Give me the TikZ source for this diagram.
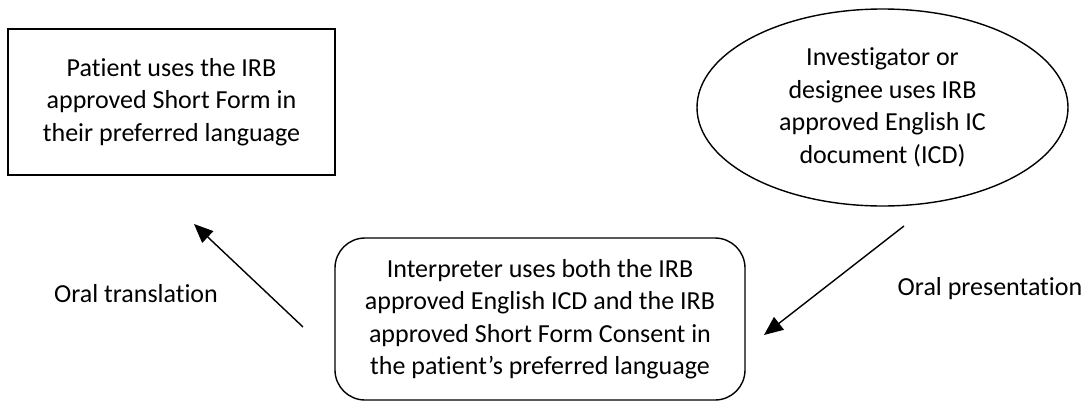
\documentclass[tikz,border=0pt]{standalone}
\usepackage{fontspec}
\setmainfont[RawFeature={-liga}]{Carlito}
\usetikzlibrary{arrows.meta,shapes.geometric}
\tikzset{
  txt/.style={font=\fontsize{26}{32.5}\selectfont, align=center, inner sep=0pt},
  box/.style={txt, draw, line width=1.8pt, minimum width=327pt, minimum height=146pt},
  oval/.style={txt, draw, ellipse, line width=1.4pt, minimum width=371pt, minimum height=197pt},
  rbox/.style={txt, draw, rounded corners=30pt, line width=1.4pt, minimum width=410pt, minimum height=162pt},
  lbl/.style={txt},
  arr/.style={line width=1.4pt, -{Triangle[length=19pt,width=16pt]}}
}
\begin{document}
\begin{tikzpicture}[x=1pt,y=-1pt]
\useasboundingbox (0,0) rectangle (1088,402);
\node[box] (patient) at (171.5,102) {Patient uses the IRB\\approved Short Form in\\their preferred language};
\node[oval] (inv) at (882.5,107.5) {Investigator or\\designee uses IRB\\approved English IC\\document (ICD)};
\node[rbox] (interp) at (540,319) {Interpreter uses both the IRB\\approved English ICD and the IRB\\approved Short Form Consent in\\the patient's preferred language};
\node[lbl] (ltrans) at (136,294) {Oral translation};
\node[lbl] (lpres) at (990,289) {Oral presentation};
\coordinate (a1s) at (303,327);
\coordinate (a1e) at (194,224);
\coordinate (a2s) at (904,226);
\coordinate (a2e) at (764,335);
\draw[arr] (a1s) -- (a1e);
\draw[arr] (a2s) -- (a2e);
\end{tikzpicture}
\end{document}
